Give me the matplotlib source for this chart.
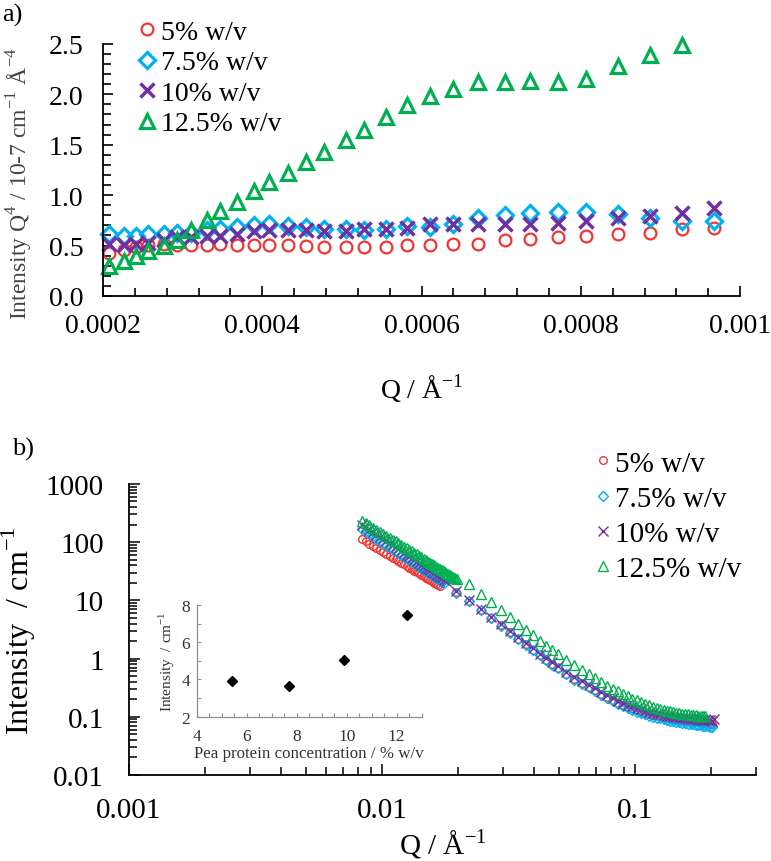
import matplotlib
matplotlib.use("Agg")
import matplotlib.pyplot as plt
from matplotlib.ticker import MultipleLocator, LogLocator, NullFormatter, FixedLocator, FixedFormatter

plt.rcParams['font.family'] = ['Liberation Serif', 'DejaVu Serif']
plt.rcParams['mathtext.fontset'] = 'custom'
plt.rcParams['mathtext.rm'] = 'Liberation Serif'

labels = ['5% w/v', '7.5% w/v', '10% w/v', '12.5% w/v']
colors = ['#f03535', '#00b0f0', '#7030a0', '#00b050']

# ---- panel a: Q^4 I(Q) vs Q ----
q_a = [0.000208, 0.000226, 0.000241, 0.000257, 0.000276, 0.000293, 0.000310, 0.000330,
       0.000347, 0.000368, 0.000389, 0.000409, 0.000432, 0.000455, 0.000477, 0.000505,
       0.000528, 0.000555, 0.000582, 0.000611, 0.000640, 0.000671, 0.000705, 0.000736,
       0.000771, 0.000807, 0.000846, 0.000887, 0.000927, 0.000967]
a_5 = [0.43, 0.46, 0.49, 0.51, 0.52, 0.51, 0.51, 0.51, 0.52, 0.51, 0.51, 0.51, 0.51, 0.50,
       0.49, 0.49, 0.49, 0.49, 0.51, 0.51, 0.52, 0.52, 0.55, 0.56, 0.58, 0.59, 0.61, 0.62,
       0.66, 0.67]
a_75 = [0.61, 0.59, 0.59, 0.61, 0.61, 0.62, 0.62, 0.65, 0.66, 0.68, 0.70, 0.71, 0.69, 0.68,
        0.66, 0.66, 0.65, 0.66, 0.69, 0.68, 0.71, 0.77, 0.80, 0.82, 0.83, 0.83, 0.81, 0.77,
        0.74, 0.74]
a_10 = [0.52, 0.51, 0.52, 0.53, 0.55, 0.58, 0.58, 0.59, 0.59, 0.61, 0.64, 0.65, 0.65, 0.65,
        0.64, 0.64, 0.66, 0.66, 0.67, 0.71, 0.71, 0.71, 0.71, 0.71, 0.72, 0.74, 0.77, 0.79,
        0.82, 0.87]
a_125 = [0.30, 0.35, 0.40, 0.45, 0.50, 0.55, 0.65, 0.75, 0.84, 0.93, 1.04, 1.13, 1.22, 1.33,
         1.43, 1.55, 1.65, 1.77, 1.89, 1.98, 2.05, 2.12, 2.12, 2.13, 2.12, 2.15, 2.28, 2.39,
         2.49]

# ---- panel b: I(Q) log-log ----
q_lo = [0.0083, 0.0086, 0.0089, 0.0092, 0.0095, 0.0098, 0.0101, 0.0104, 0.0107, 0.0110,
        0.0113, 0.0116, 0.0119, 0.0122, 0.0125, 0.0128, 0.0131, 0.0134, 0.0137, 0.0140,
        0.0143, 0.0146, 0.0149, 0.0152, 0.0155, 0.0158, 0.0161, 0.0164, 0.0167, 0.0170,
        0.0173, 0.0176, 0.0179, 0.0182, 0.0185, 0.0188, 0.0191, 0.0194, 0.0197]
lo_5 = [113, 103, 94.2, 86.5, 79.6, 73.3, 67.8, 62.9, 58.4, 54.3, 50.7, 47.3, 44.3, 41.5,
        39.0, 36.6, 34.5, 32.5, 30.7, 29.0, 27.5, 26.0, 24.7, 23.4, 22.3, 21.2, 20.2, 19.2,
        18.4, 17.5]
lo_75 = [169, 153, 139, 126, 115, 105, 96.6, 88.9, 82.0, 75.7, 70.2, 65.1, 60.5, 56.4, 52.6,
         49.2, 46.1, 43.2, 40.5, 38.1, 35.9, 33.8, 31.9, 30.1, 28.5, 27.0, 25.6, 24.3, 23.1,
         21.9, 20.9, 19.9]
lo_10 = [200, 180, 163, 148, 135, 124, 113, 104, 95.7, 88.3, 81.7, 75.7, 70.3, 65.4, 61.0,
         56.9, 53.2, 49.9, 46.8, 43.9, 41.3, 38.9, 36.7, 34.6, 32.7, 30.9, 29.3, 27.8, 26.3,
         25.0, 23.8, 22.6, 21.5]
lo_125 = [234, 213, 194, 178, 163, 150, 138, 128, 119, 110, 103, 95.7, 89.3, 83.6, 78.3,
          73.6, 69.2, 65.2, 61.4, 57.9, 54.7, 51.8, 49.1, 46.5, 44.2, 41.9, 39.9, 37.9, 36.1,
          34.5, 32.9, 31.4, 30.1, 28.7, 27.5, 26.4, 25.3, 24.3, 23.3]

q_hi = [0.0195, 0.0220, 0.0245, 0.0270, 0.0295, 0.0320, 0.0345, 0.0370, 0.0395, 0.0420,
        0.0445, 0.0470, 0.0495, 0.0535, 0.0575, 0.0615, 0.0655, 0.0695, 0.0735, 0.0775,
        0.0815, 0.0855, 0.0895, 0.0935, 0.0975, 0.1015, 0.1055, 0.1095, 0.1135, 0.1175,
        0.1215, 0.1255, 0.1295, 0.1335, 0.1375, 0.1415, 0.1455, 0.1495, 0.1535, 0.1575,
        0.1615, 0.1655, 0.1695, 0.1735, 0.1775, 0.1815, 0.1855, 0.1895, 0.1935, 0.1975,
        0.2015, 0.2055]
hi_5 = [14.0, 9.8, 6.84, 4.96, 3.70, 2.83, 2.21, 1.75, 1.41, 1.15, 0.95, 0.81, 0.695,
        0.552, 0.446, 0.38, 0.33, 0.29, 0.245, 0.217, 0.193, 0.175, 0.161,
        0.149, 0.139, 0.131, 0.124, 0.118, 0.113, 0.109, 0.106, 0.103, 0.100,
        0.098, 0.095, 0.093, 0.091, 0.089, 0.087, 0.086, 0.085, 0.084, 0.083,
        0.082, 0.081, 0.080, 0.079, 0.078, 0.077, 0.076, 0.075]
hi_75 = [13.6, 9.6, 6.7, 4.9, 3.65, 2.80, 2.18, 1.72, 1.38, 1.13, 0.93, 0.79, 0.68,
         0.540, 0.435, 0.37, 0.32, 0.28, 0.237, 0.209, 0.185, 0.167, 0.153,
         0.141, 0.131, 0.123, 0.116, 0.110, 0.105, 0.101, 0.097, 0.094, 0.091,
         0.089, 0.086, 0.084, 0.082, 0.080, 0.078, 0.077, 0.076, 0.075, 0.074,
         0.073, 0.072, 0.071, 0.070, 0.069, 0.069, 0.068, 0.067]
hi_10 = [14.5, 10.3, 7.2, 5.2, 3.9, 3.0, 2.35, 1.86, 1.50, 1.22, 1.01, 0.86, 0.74,
         0.59, 0.48, 0.41, 0.355, 0.31, 0.265, 0.235, 0.209, 0.190, 0.175,
         0.162, 0.151, 0.142, 0.134, 0.128, 0.122, 0.117, 0.113, 0.110, 0.107,
         0.104, 0.102, 0.100, 0.098, 0.096, 0.095, 0.094, 0.093, 0.092, 0.091,
         0.090, 0.089, 0.089, 0.088, 0.088, 0.087, 0.087, 0.086, 0.092]
hi_125 = [18.9, 13.0, 9.27, 6.83, 5.16, 3.98, 3.13, 2.50, 2.02, 1.65, 1.42, 1.18,
          0.94, 0.764, 0.627, 0.534, 0.456, 0.392, 0.341, 0.305, 0.275, 0.249,
          0.226, 0.205, 0.192, 0.179, 0.168, 0.157, 0.150, 0.1435, 0.1377, 0.132,
          0.127, 0.124, 0.121, 0.118, 0.115, 0.1125, 0.111, 0.110, 0.109, 0.1075,
          0.1065, 0.105, 0.104, 0.103, 0.102]

# ---- inset ----
conc = [5.4, 7.7, 9.9, 12.4]
inset_int = [3.9, 3.65, 5.05, 7.45]

fig = plt.figure(figsize=(7.71, 8.62), dpi=100)

# ================= panel a =================
ax1 = fig.add_axes([0.1336, 0.6555, 0.8264, 0.2925])
mk_a = [dict(marker='o', ms=8.5, mew=1.6, mfc='none'),
        dict(marker='D', ms=8.5, mew=2.3, mfc='none'),
        dict(marker='x', ms=9.5, mew=2.5),
        dict(marker='^', ms=10.5, mew=2.3, mfc='none')]
series_a = [a_5, a_75, a_10, a_125]
for ys, c, lab, mk in zip(series_a, colors, labels, mk_a):
    ax1.plot(q_a[:len(ys)], ys, ls='none', color=c, mec=c, label=lab, clip_on=False, **mk)

ax1.set_xlim(0.0002, 0.001)
ax1.set_ylim(0, 2.5)
ax1.xaxis.set_major_locator(FixedLocator([0.0002, 0.0004, 0.0006, 0.0008, 0.001]))
ax1.xaxis.set_major_formatter(FixedFormatter(['0.0002', '0.0004', '0.0006', '0.0008', '0.001']))
ax1.xaxis.set_minor_locator(MultipleLocator(0.00004))
ax1.yaxis.set_major_locator(MultipleLocator(0.5))
ax1.yaxis.set_minor_locator(MultipleLocator(0.1))
ax1.yaxis.set_major_formatter(matplotlib.ticker.FormatStrFormatter('%.1f'))
for s in ['top', 'right']:
    ax1.spines[s].set_visible(False)
for s in ['left', 'bottom']:
    ax1.spines[s].set_linewidth(1.3)
ax1.tick_params(which='both', direction='in', width=1.2, labelsize=20, color='black')
ax1.tick_params(which='major', length=7)
ax1.tick_params(which='minor', length=6)
ax1.tick_params(axis='x', pad=12)
ax1.tick_params(axis='y', pad=14)
ax1.set_xlabel('Q / Å$^{-1}$', fontsize=20, labelpad=24)
ax1.set_ylabel('Intensity Q$^4$ / 10-7 cm$^{-1}$ Å$^{-4}$', fontsize=17, color='#444444', labelpad=6)
ax1.yaxis.set_label_coords(-0.106, 0.45)
ax1.legend(loc='upper left', bbox_to_anchor=(0.158, 0.989), bbox_transform=fig.transFigure,
           frameon=False, fontsize=20, handletextpad=0.0, handlelength=1.0,
           labelspacing=0.18, borderaxespad=0)
fig.text(0.003, 0.995, 'a)', fontsize=19, va='top', ha='left')

# ================= panel b =================
ax2 = fig.add_axes([0.1673, 0.0998, 0.8132, 0.3376])
mk_b = [dict(marker='o', ms=5.5, mew=1.0, mfc='none'),
        dict(marker='D', ms=4.8, mew=1.0, mfc='none'),
        dict(marker='x', ms=6.5, mew=1.0),
        dict(marker='^', ms=6.5, mew=1.0, mfc='none')]
lo_series = [lo_5, lo_75, lo_10, lo_125]
hi_series = [hi_5, hi_75, hi_10, hi_125]
hi_start = [0, 0, 0, 1]
for lo, hi, st, c, lab, mk in zip(lo_series, hi_series, hi_start, colors, labels, mk_b):
    ax2.plot(q_lo[:len(lo)], lo, ls='none', color=c, mec=c, label=lab, **mk)
    ax2.plot(q_hi[st:st + len(hi)], hi, ls='none', color=c, mec=c, **mk)

ax2.set_xscale('log')
ax2.set_yscale('log')
ax2.set_xlim(0.001, 0.3)
ax2.set_ylim(0.01, 1000)
ax2.xaxis.set_major_locator(FixedLocator([0.001, 0.01, 0.1]))
ax2.xaxis.set_major_formatter(FixedFormatter(['0.001', '0.01', '0.1']))
ax2.xaxis.set_minor_locator(LogLocator(base=10, subs=range(2, 10)))
ax2.xaxis.set_minor_formatter(NullFormatter())
ax2.yaxis.set_major_locator(FixedLocator([0.01, 0.1, 1, 10, 100, 1000]))
ax2.yaxis.set_major_formatter(FixedFormatter(['0.01', '0.1', '1', '10', '100', '1000']))
ax2.yaxis.set_minor_locator(LogLocator(base=10, subs=range(2, 10)))
ax2.yaxis.set_minor_formatter(NullFormatter())
for s in ['top', 'right']:
    ax2.spines[s].set_visible(False)
for s in ['left', 'bottom']:
    ax2.spines[s].set_linewidth(1.3)
ax2.tick_params(which='both', direction='in', width=1.1, labelsize=21)
ax2.tick_params(which='major', length=8)
ax2.tick_params(which='minor', length=6)
ax2.tick_params(axis='x', pad=16)
ax2.tick_params(axis='y', pad=18)
ax2.set_xlabel('Q / Å$^{-1}$', fontsize=21, labelpad=2)
ax2.set_ylabel('Intensity  / cm$^{-1}$', fontsize=23, labelpad=6)
ax2.legend(loc='upper left', bbox_to_anchor=(0.752, 0.49), bbox_transform=fig.transFigure,
           frameon=False, fontsize=21, handletextpad=0.0, handlelength=0.8,
           labelspacing=0.3, borderaxespad=0)
fig.text(0.015, 0.492, 'b)', fontsize=19, va='top', ha='left')

# ================= inset =================
ax3 = fig.add_axes([0.2555, 0.1674, 0.2914, 0.1296])
ax3.patch.set_alpha(0)
ax3.plot(conc, inset_int, ls='none', marker='D', ms=5, color='black')
ax3.set_xlim(4, 13)
ax3.set_ylim(2, 8)
ax3.xaxis.set_major_locator(MultipleLocator(2))
ax3.xaxis.set_minor_locator(MultipleLocator(0.5))
ax3.yaxis.set_major_locator(MultipleLocator(2))
ax3.yaxis.set_minor_locator(MultipleLocator(1))
for s in ['top', 'right']:
    ax3.spines[s].set_visible(False)
for s in ['left', 'bottom']:
    ax3.spines[s].set_color('#909090')
    ax3.spines[s].set_linewidth(0.9)
ax3.tick_params(which='both', direction='in', color='#909090', labelsize=12.5,
                labelcolor='#333333', width=0.8)
ax3.tick_params(which='major', length=3)
ax3.tick_params(which='minor', length=3)
ax3.tick_params(axis='x', pad=8)
ax3.tick_params(axis='y', pad=5)
ax3.set_xlabel('Pea protein concentration / % w/v', fontsize=12.2, color='#333333', labelpad=1)
ax3.set_ylabel('Intensity  / cm$^{-1}$', fontsize=11, color='#333333', labelpad=3)

fig.savefig('out.png', dpi=100)
